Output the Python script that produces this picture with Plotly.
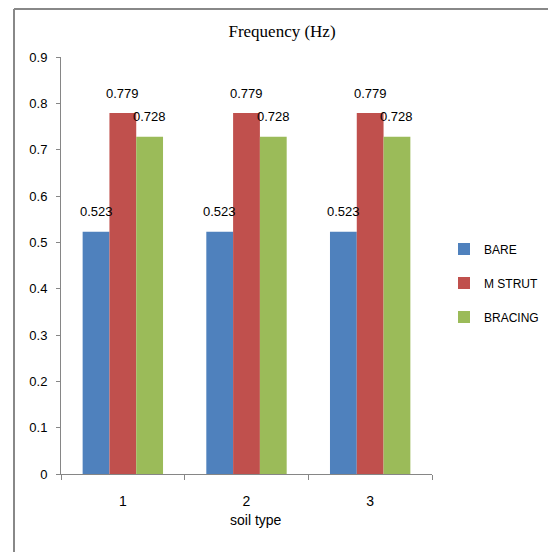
import plotly.graph_objects as go

categories = ["1", "2", "3"]
series_names = ["BARE", "M STRUT", "BRACING"]
bare = [0.523, 0.523, 0.523]
m_strut = [0.779, 0.779, 0.779]
bracing = [0.728, 0.728, 0.728]
colors = ["#4F81BD", "#C0504D", "#9BBB59"]
y_ticks = [0, 0.1, 0.2, 0.3, 0.4, 0.5, 0.6, 0.7, 0.8, 0.9]
x_title = "soil type"

W, H = 548, 552
L, R, T, B = 61, 116, 57, 78
pw, ph = W - L - R, H - T - B
BARGAP = 0.35

fig = go.Figure()
all_series = [bare, m_strut, bracing]
for i, (name, vals) in enumerate(zip(series_names, all_series)):
    fig.add_trace(go.Bar(
        x=categories, y=vals, name=name,
        marker=dict(color=colors[i], line=dict(width=0)),
        legendgroup=name,
    ))

def px_x(p):
    return (p - L) / pw

def px_y(p):
    return (H - B - p) / ph

bw = (1 - BARGAP) / len(all_series)
annotations = []
for i, vals in enumerate(all_series):
    off = (i - (len(all_series) - 1) / 2) * bw
    for j, v in enumerate(vals):
        annotations.append(dict(
            x=j + off, y=v, xref="x", yref="y", text=f"{v:.3f}",
            showarrow=False, yanchor="middle", xanchor="center", yshift=20,
            font=dict(family="Liberation Sans", size=13, color="#000"),
        ))
annotations.append(dict(
    x=px_x(256), y=px_y(520), xref="paper", yref="paper", text=x_title,
    showarrow=False, xanchor="center", yanchor="middle",
    font=dict(family="Liberation Sans", size=14, color="#000"),
))

fig.update_layout(
    width=W, height=H,
    margin=dict(l=L, r=R, t=T, b=B, autoexpand=False),
    paper_bgcolor="white", plot_bgcolor="white",
    barmode="group", bargap=BARGAP, bargroupgap=0,
    font=dict(family="Liberation Sans", size=13, color="#000"),
    title=dict(text="Frequency (Hz)", x=px_x(282), xref="paper",
               y=1 - 31 / H, yref="container", xanchor="center", yanchor="middle",
               font=dict(family="Liberation Serif", size=17, color="#000")),
    legend=dict(x=px_x(444), y=px_y(283), xanchor="left", yanchor="middle",
                font=dict(family="Liberation Sans", size=12, color="#000"),
                tracegroupgap=15, itemwidth=30, bgcolor="rgba(0,0,0,0)"),
    xaxis=dict(type="category", showline=True, linecolor="#868686", linewidth=1,
               ticks="outside", tickson="boundaries", ticklen=5, tickcolor="#868686",
               showgrid=False, ticklabelstandoff=14,
               tickfont=dict(family="Liberation Sans", size=14)),
    yaxis=dict(range=[0, 0.9], tickvals=y_ticks, showline=True, linecolor="#868686",
               linewidth=1, ticks="outside", ticklen=4, tickcolor="#868686",
               showgrid=False, zeroline=False, ticklabelstandoff=6),
    annotations=annotations,
    shapes=[
        dict(type="line", xref="paper", yref="paper", x0=px_x(14), x1=px_x(14),
             y0=px_y(600), y1=px_y(9), line=dict(color="#888888", width=2)),
        dict(type="line", xref="paper", yref="paper", x0=px_x(14), x1=px_x(600),
             y0=px_y(9), y1=px_y(9), line=dict(color="#888888", width=2)),
    ],
)

fig.write_html("out.html")
